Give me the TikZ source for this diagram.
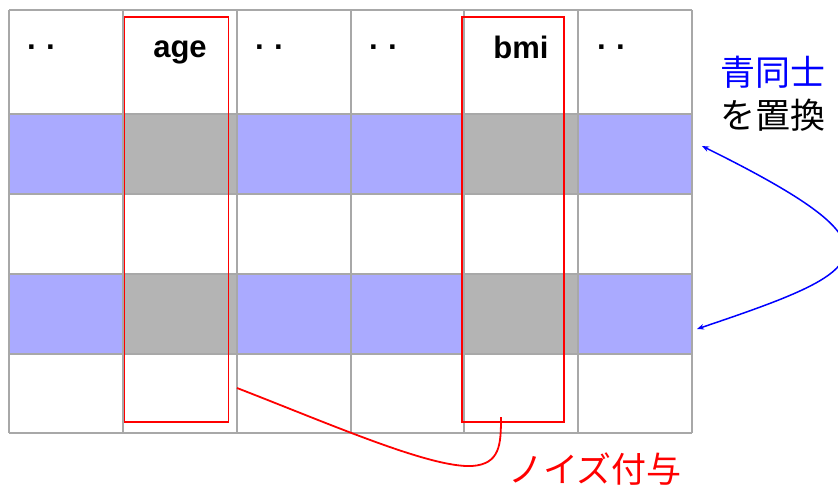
\documentclass[tikz,border=0pt]{standalone}
\usepackage{fontspec}
\setmainfont{Liberation Sans}
\newfontfamily\cjk{Noto Sans CJK JP}
\usetikzlibrary{arrows.meta}
\definecolor{rowblue}{HTML}{AAAAFF}
\definecolor{cellgray}{HTML}{B4B4B4}
\definecolor{gridgray}{HTML}{A8A8A8}
\definecolor{noisered}{HTML}{FF0000}
\definecolor{swapblue}{HTML}{0000FF}
\begin{document}
\begin{tikzpicture}[x=1pt,y=-1pt,
  gridline/.style={draw=gridgray,line width=2pt},
  hdr/.style={font=\fontsize{31}{33}\selectfont\bfseries,inner sep=0pt,anchor=base},
  dots/.style={hdr,anchor=base west},
  redbox/.style={draw=noisered,line width=1.8pt},
  jp/.style={font=\cjk\fontsize{35}{38}\selectfont,inner sep=0pt}]
\useasboundingbox (0,0) rectangle (838,488);
\fill[white] (0,0) rectangle (838,488);
% blue rows
\fill[rowblue] (9,114) rectangle (692,194);
\fill[rowblue] (9,274) rectangle (692,354);
% gray cells
\fill[cellgray] (122.8,114) rectangle (236.7,194);
\fill[cellgray] (122.8,274) rectangle (236.7,354);
\fill[cellgray] (464.3,114) rectangle (578.2,194);
\fill[cellgray] (464.3,274) rectangle (578.2,354);
% grid
\foreach \x in {9,122.8,236.7,350.5,464.3,578.2,692}
  \draw[gridline] (\x,10) -- (\x,433);
\foreach \y in {10,114,194,274,354,433}
  \draw[gridline] (9,\y) -- (692,\y);
% header texts
\node[dots] (d1) at (27,57) {· ·};
\node[hdr] (age) at (180,57) {age};
\node[dots] (d3) at (255,57) {· ·};
\node[dots] (d4) at (369,57) {· ·};
\node[hdr] (bmi) at (521,58) {bmi};
\node[dots] (d6) at (597,57) {· ·};
% red boxes
\draw[redbox] (124.5,17) rectangle (228.5,422);
\draw[redbox] (462,17) rectangle (564,422);
% red noise connector
\coordinate (n1) at (237,388);
\coordinate (n2) at (501,417);
\draw[noisered,line width=1.8pt] (n1) .. controls (330,424) and (430,468) .. (472,466)
  .. controls (500,464) and (501,445) .. (n2);
\node[jp,text=noisered] (noise) at (595,469) {ノイズ付与};
% swap label
\node[jp,text=swapblue] (swap1) at (773,72) {青同士};
\node[jp] (swap2) at (773,115) {を置換};
% blue arrows
\coordinate (t1) at (702,146);
\coordinate (t2) at (697,329);
\draw[swapblue,line width=1.5pt,{Stealth[length=7pt,width=5.5pt]}-{Stealth[length=7pt,width=5.5pt]}]
  (t1) .. controls (912,250) and (872,270) .. (t2);
\end{tikzpicture}
\end{document}
